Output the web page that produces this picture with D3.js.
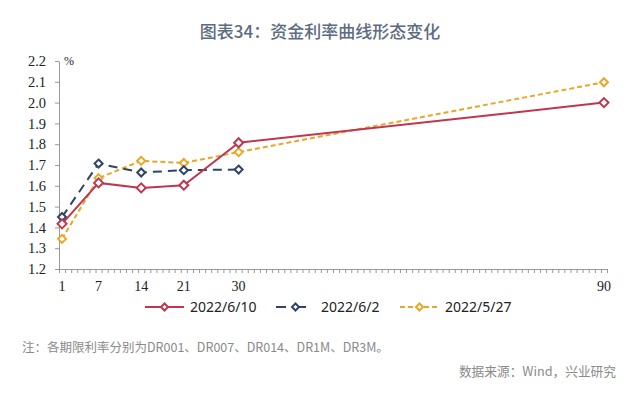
<!DOCTYPE html>
<html>
<head>
<meta charset="utf-8">
<script src="https://cdn.jsdelivr.net/npm/d3@7"></script>
<style>
  html, body { margin: 0; padding: 0; background: #fff; }
  svg { display: block; }
</style>
</head>
<body>
<div id="chart"></div>
<script>
// tenors (days) and the three curves
const tenors = [1, 7, 14, 21, 30, 90];
const seriesNames = ["2022/6/10", "2022/6/2", "2022/5/27"];
const rates0610 = [1.417, 1.614, 1.590, 1.603, 1.807, 2.000];
const rates0602 = [1.450, 1.707, 1.664, 1.675, 1.678, null];
const rates0527 = [1.345, 1.637, 1.720, 1.710, 1.762, 2.098];
const yTicks = [1.2, 1.3, 1.4, 1.5, 1.6, 1.7, 1.8, 1.9, 2.0, 2.1, 2.2];

const colors = ["#c0364e", "#2f4468", "#e9a728"];
const dashes = [null, "9,6", "5,3"];

const W = 640, H = 393;
const margin = { top: 61, right: 33, bottom: 124, left: 59 };

const svg = d3.select("#chart").append("svg")
    .attr("width", W)
    .attr("height", H);

svg.append("text")
    .attr("x", 320)
    .attr("y", 38)
    .attr("text-anchor", "middle")
    .attr("font-family", "'Noto Sans CJK SC', 'Noto Sans', sans-serif")
    .attr("font-size", 17)
    .attr("font-weight", 500)
    .attr("fill", "#5b6b80")
    .text("图表34：资金利率曲线形态变化");

// category-style axis: each day is one slot
const x = d3.scaleLinear()
    .domain([0.5, 90.5])
    .range([margin.left, W - margin.right]);
const y = d3.scaleLinear()
    .domain([1.2, 2.2])
    .range([H - margin.bottom, margin.top]);

const xAxis = svg.append("g")
    .attr("transform", `translate(0, ${H - margin.bottom})`)
    .call(d3.axisBottom(x)
        .tickValues(d3.range(0.5, 91, 1))
        .tickSize(4)
        .tickSizeOuter(0)
        .tickFormat(""));
xAxis.selectAll("line, path").attr("stroke", "#999");

svg.append("g").selectAll("text")
    .data(tenors)
    .join("text")
    .attr("x", d => x(d))
    .attr("y", H - margin.bottom + 22)
    .attr("text-anchor", "middle")
    .attr("font-family", "'Liberation Serif', serif")
    .attr("font-size", 14)
    .attr("fill", "#222")
    .text(d => d);

const yAxis = svg.append("g")
    .attr("transform", `translate(${margin.left}, 0)`)
    .call(d3.axisLeft(y)
        .tickValues(yTicks)
        .tickSize(4)
        .tickSizeOuter(0)
        .tickPadding(9)
        .tickFormat(d3.format(".1f")));
yAxis.selectAll("line, path").attr("stroke", "#999");
yAxis.selectAll("text")
    .attr("font-family", "'Liberation Serif', serif")
    .attr("font-size", 14.5)
    .attr("fill", "#222");

svg.append("text")
    .attr("x", 64)
    .attr("y", 65)
    .attr("font-family", "'Liberation Serif', serif")
    .attr("font-size", 12)
    .attr("fill", "#222")
    .text("%");

const allSeries = [rates0610, rates0602, rates0527];
const line = d3.line()
    .defined(d => d.v != null)
    .x(d => x(d.t))
    .y(d => y(d.v));
const diamond = s => `M0,${-s}L${s},0L0,${s}L${-s},0Z`;
const markerSize = [4.5, 4, 4];

// draw back-to-front so the 6/10 curve sits on top
[2, 1, 0].forEach(i => {
    const pts = tenors.map((t, j) => ({ t: t, v: allSeries[i][j] }));
    const g = svg.append("g");
    g.append("path")
        .datum(pts)
        .attr("fill", "none")
        .attr("stroke", colors[i])
        .attr("stroke-width", 2)
        .attr("stroke-dasharray", dashes[i])
        .attr("d", line);
    g.selectAll("path.mk")
        .data(pts.filter(d => d.v != null))
        .join("path")
        .attr("class", "mk")
        .attr("transform", d => `translate(${x(d.t)}, ${y(d.v)})`)
        .attr("d", diamond(markerSize[i]))
        .attr("fill", "#fff")
        .attr("stroke", colors[i])
        .attr("stroke-width", 2);
});

// legend
const legendX = [145, 276, 400];
const legend = svg.append("g");
seriesNames.forEach((name, i) => {
    const lx = legendX[i], ly = 307;
    legend.append("line")
        .attr("x1", lx).attr("x2", lx + 39)
        .attr("y1", ly).attr("y2", ly)
        .attr("stroke", colors[i])
        .attr("stroke-width", 2)
        .attr("stroke-dasharray", i === 1 ? "10,10" : dashes[i]);
    legend.append("path")
        .attr("transform", `translate(${lx + 19.5}, ${ly})`)
        .attr("d", diamond(3.5))
        .attr("fill", "#fff")
        .attr("stroke", colors[i])
        .attr("stroke-width", 2);
    legend.append("text")
        .attr("x", lx + 45)
        .attr("y", ly + 5)
        .attr("font-family", "'Noto Sans', sans-serif")
        .attr("font-size", 14)
        .attr("fill", "#222")
        .text(name);
});

svg.append("text")
    .attr("x", 22)
    .attr("y", 352)
    .attr("font-family", "'Noto Sans CJK SC', sans-serif")
    .attr("font-size", 12.5)
    .attr("fill", "#8a8a8a")
    .text("注：各期限利率分别为DR001、DR007、DR014、DR1M、DR3M。");

svg.append("text")
    .attr("x", 616)
    .attr("y", 376)
    .attr("text-anchor", "end")
    .attr("font-family", "'Noto Sans CJK SC', sans-serif")
    .attr("font-size", 12.7)
    .attr("fill", "#8a8a8a")
    .text("数据来源：Wind，兴业研究");
</script>
</body>
</html>
